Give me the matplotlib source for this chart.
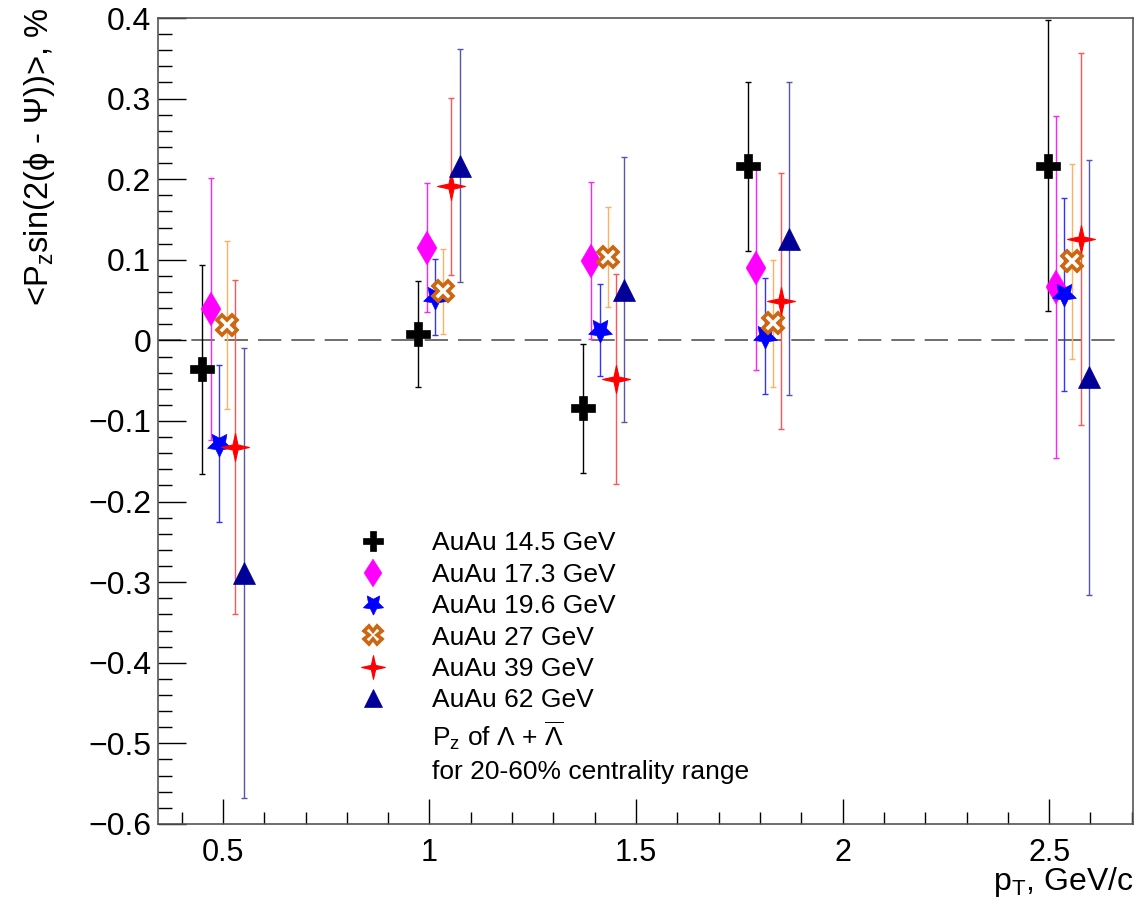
import matplotlib
matplotlib.use("Agg")
import matplotlib.pyplot as plt
from matplotlib.ticker import MultipleLocator, FixedLocator, FuncFormatter
from matplotlib.lines import Line2D
from matplotlib.path import Path

plt.rcParams['font.family'] = ['Liberation Sans', 'DejaVu Sans']
plt.rcParams['mathtext.fontset'] = 'custom'
plt.rcParams['mathtext.rm'] = 'Liberation Sans'
plt.rcParams['mathtext.it'] = 'Liberation Sans:italic'
plt.rcParams['mathtext.bf'] = 'Liberation Sans:bold'
plt.rcParams['axes.unicode_minus'] = True

# ---- data ----
pt_bins = [0.50, 1.023, 1.422, 1.821, 2.546]
labels = ["AuAu 14.5 GeV", "AuAu 17.3 GeV", "AuAu 19.6 GeV",
          "AuAu 27 GeV", "AuAu 39 GeV", "AuAu 62 GeV"]
v14 = [-0.036, 0.008, -0.084, 0.216, 0.217]
e14 = [0.130, 0.066, 0.080, 0.105, 0.180]
v17 = [0.039, 0.115, 0.099, 0.090, 0.066]
e17 = [0.162, 0.080, 0.097, 0.127, 0.212]
v19 = [-0.128, 0.054, 0.013, 0.005, 0.057]
e19 = [0.097, 0.047, 0.057, 0.072, 0.120]
v27 = [0.019, 0.061, 0.103, 0.021, 0.098]
e27 = [0.104, 0.053, 0.062, 0.079, 0.121]
v39 = [-0.132, 0.191, -0.048, 0.049, 0.126]
e39 = [0.207, 0.110, 0.130, 0.159, 0.231]
v62 = [-0.289, 0.217, 0.063, 0.126, -0.046]
e62 = [0.279, 0.144, 0.164, 0.194, 0.270]

values = [v14, v17, v19, v27, v39, v62]
errors = [e14, e17, e19, e27, e39, e62]

# ---- styles ----
r = 0.18
four_star = Path([(0, 1), (r, r), (1, 0), (r, -r), (0, -1), (-r, -r), (-1, 0), (-r, r), (0, 1)],
                 [Path.MOVETO] + [Path.LINETO] * 7 + [Path.CLOSEPOLY])

shifts = [-0.05, -0.03, -0.01, 0.01, 0.03, 0.05]
styles = [
    dict(marker='P', ms=17, mfc='black', mec='black', mew=0.5, ecolor='black'),
    dict(marker='d', ms=17, mfc='#FF00FF', mec='#FF00FF', mew=0.3, ecolor='#FF22FF'),
    dict(marker=(5, 1, 180), ms=18, mfc='#0000FF', mec='#0000FF', mew=0.5, ecolor='#3333FF'),
    dict(marker='X', ms=15, mfc='white', mec='#CC6611', mew=2.6, ecolor='#FFB060'),
    dict(marker=four_star, ms=20, mfc='#FF0000', mec='#FF0000', mew=0.8, ecolor='#FF5555'),
    dict(marker='^', ms=16, mfc='#000099', mec='#000099', mew=0.5, ecolor='#5555AA'),
]

fig = plt.figure(figsize=(11.37, 9.01), dpi=100)
ax = fig.add_axes([0.139, 0.0855, 0.8575, 0.8945])
ax.set_xlim(0.343, 2.703)
ax.set_ylim(-0.6, 0.4)

ax.hlines(0, 0.343, 2.677, colors='#555555', lw=1.2, linestyles=(0, (14, 6)), zorder=1)

handles = []
for vals, errs, sh, st, lab in zip(values, errors, shifts, styles, labels):
    xs = [p + sh for p in pt_bins]
    ax.errorbar(xs, vals, yerr=errs, fmt='none', ecolor=st['ecolor'],
                elinewidth=1.0, capsize=2, capthick=1.0, zorder=2)
    ax.plot(xs, vals, ls='none', marker=st['marker'], ms=st['ms'],
            mfc=st['mfc'], mec=st['mec'], mew=st['mew'], zorder=3)
    handles.append(Line2D([], [], ls='none', marker=st['marker'], ms=st['ms'] * 0.85,
                          mfc=st['mfc'], mec=st['mec'], mew=st['mew']))

extra1 = Line2D([], [], ls='none', marker=None)
extra2 = Line2D([], [], ls='none', marker=None)
leg_labels = labels + [r'P$_{\rm z}$ of $\Lambda$ + $\overline{\Lambda}$',
                       'for 20-60% centrality range']
ax.legend(handles + [extra1, extra2], leg_labels, frameon=False,
          loc='upper left', bbox_to_anchor=(0.207, 0.363), fontsize=19,
          handlelength=1.0, handletextpad=1.75, labelspacing=0.28,
          borderpad=0, borderaxespad=0)

# ticks
def yfmt(v, pos):
    s = '%g' % round(v, 3)
    if s == '-0':
        s = '0'
    return s.replace('-', '\u2212')

ax.xaxis.set_major_locator(FixedLocator([0.5, 1.0, 1.5, 2.0, 2.5]))
ax.xaxis.set_minor_locator(MultipleLocator(0.1))
ax.yaxis.set_major_locator(MultipleLocator(0.1))
ax.yaxis.set_minor_locator(MultipleLocator(0.02))
ax.yaxis.set_major_formatter(FuncFormatter(yfmt))
ax.set_xticklabels(['0.5', '1', '1.5', '2', '2.5'])
ax.tick_params(axis='x', which='major', direction='in', length=18, width=1,
               labelsize=22, pad=10, top=False)
ax.tick_params(axis='x', which='minor', direction='in', length=9, width=1, top=False)
ax.tick_params(axis='y', which='major', direction='in', length=20, width=1,
               labelsize=23, pad=5, right=False)
ax.tick_params(axis='y', which='minor', direction='in', length=10, width=1, right=False)
for s in ax.spines.values():
    s.set_color('#555555')
    s.set_linewidth(1.2)

fig.text(0.035, 0.991, r'<P$_{\rm z}$sin(2(ϕ - Ψ))>, %', rotation=90,
         ha='center', va='top', fontsize=23.5)
fig.text(0.997, 0.002, r'p$_{\rm T}$, GeV/c', ha='right', va='bottom', fontsize=23)

fig.savefig('out.png', dpi=100)
